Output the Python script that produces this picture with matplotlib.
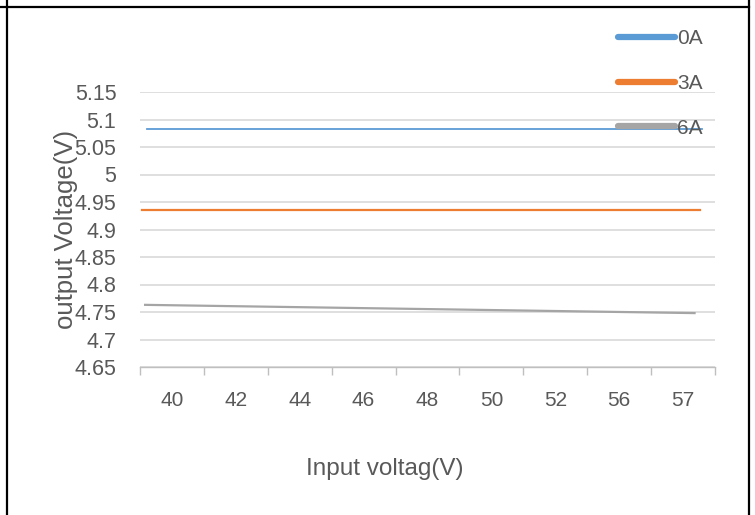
import matplotlib
matplotlib.use("Agg")
import matplotlib.pyplot as plt
from matplotlib.lines import Line2D
from matplotlib.ticker import FixedLocator, FixedFormatter

plt.rcParams['font.family'] = ['Liberation Sans', 'DejaVu Sans']

# ---- data ----
categories = ['40', '42', '44', '46', '48', '50', '52', '56', '57']
series_names = ['0A', '3A', '6A']
# each series drawn as a straight segment across the category axis
# (x in category-index units, y in volts)
x_0A = [-0.39, 8.30]
y_0A = [5.082, 5.082]
x_3A = [-0.47, 8.27]
y_3A = [4.936, 4.936]
x_6A = [-0.42, 8.18]
y_6A = [4.763, 4.748]
y_ticks = [4.65, 4.7, 4.75, 4.8, 4.85, 4.9, 4.95, 5.0, 5.05, 5.1, 5.15]
y_tick_labels = ['4.65', '4.7', '4.75', '4.8', '4.85', '4.9', '4.95', '5', '5.05', '5.1', '5.15']

colors = ['#5B9BD5', '#ED7D31', '#A5A5A5']
text_color = '#595959'

W, H = 755, 515
fig = plt.figure(figsize=(W / 100, H / 100), dpi=100)
ax = fig.add_axes([140 / W, (H - 367) / H, (715 - 140) / W, (367 - 92) / H])

l0, = ax.plot(x_0A, y_0A, color=colors[0], lw=1.3, label=series_names[0])
l1, = ax.plot(x_3A, y_3A, color=colors[1], lw=1.6, label=series_names[1])
l2, = ax.plot(x_6A, y_6A, color=colors[2], lw=1.6, label=series_names[2])

n = len(categories)
ax.set_xlim(-0.5, n - 0.5)
ax.set_ylim(4.65, 5.15)

ax.set_yticks(y_ticks)
ax.set_yticklabels(y_tick_labels)
ax.yaxis.grid(True, color='#D9D9D9', lw=1.2)
ax.set_axisbelow(True)

ax.xaxis.set_major_locator(FixedLocator(list(range(n))))
ax.xaxis.set_major_formatter(FixedFormatter(categories))
ax.xaxis.set_minor_locator(FixedLocator([i - 0.5 for i in range(n + 1)]))
ax.tick_params(axis='x', which='major', length=0, pad=17, labelsize=15, labelcolor=text_color)
ax.tick_params(axis='x', which='minor', length=6, width=1, color='#BFBFBF', direction='out')
ax.tick_params(axis='y', length=0, pad=17, labelsize=15.5, labelcolor=text_color)

for s in ['top', 'right', 'left']:
    ax.spines[s].set_visible(False)
ax.spines['bottom'].set_color('#BFBFBF')
ax.spines['bottom'].set_linewidth(1)

ax.set_xlabel('Input voltag(V)', fontsize=17.5, color=text_color, va='center')
ax.xaxis.set_label_coords(0.426, -0.37)
ax.set_ylabel('output Voltage(V)', fontsize=18.5, color=text_color, va='center')
ax.yaxis.set_label_coords(-0.128, 0.5)

leg = fig.legend(handles=[l0, l1, l2], loc='upper left',
                 bbox_to_anchor=(618 / W, 1 - 29 / H), frameon=False,
                 fontsize=15, handlelength=2.75, handletextpad=0.08,
                 labelspacing=1.24, borderpad=0, borderaxespad=0)
for t in leg.get_texts():
    t.set_color(text_color)
for h in leg.legend_handles:
    h.set_linewidth(4.5)
    h.set_solid_capstyle('round')

# table-cell border lines around the chart
fig.add_artist(Line2D([7 / W, 7 / W], [0, 1], color='black', lw=1.6, transform=fig.transFigure))
fig.add_artist(Line2D([749 / W, 749 / W], [0, 1], color='black', lw=1.6, transform=fig.transFigure))
fig.add_artist(Line2D([0, 749 / W], [1 - 7 / H, 1 - 7 / H], color='black', lw=1.6, transform=fig.transFigure))

fig.savefig('out.png', dpi=100)
